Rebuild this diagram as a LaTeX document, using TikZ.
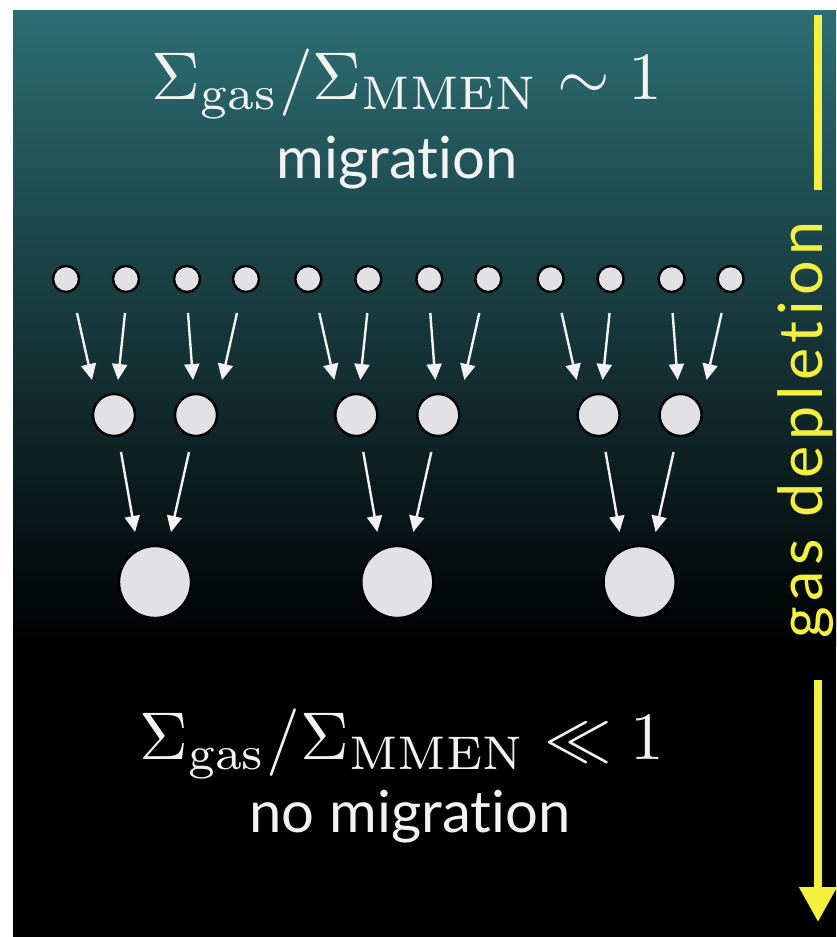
\documentclass[tikz,border=0pt]{standalone}
\usepackage{fontspec}
\newfontfamily\labelfont[Ligatures=NoCommon]{Lato}
\newfontfamily\axisfont[Ligatures=NoCommon,LetterSpace=9]{Lato}
\usetikzlibrary{arrows.meta,calc}

\definecolor{deepteal}{RGB}{44,110,116}
\definecolor{planet}{RGB}{226,226,228}
\definecolor{hint}{RGB}{244,240,64}
\definecolor{chalk}{RGB}{242,242,242}

\tikzset{
  body/.style={circle, fill=planet, draw=black, line width=2.4pt, inner sep=0pt},
  small/.style={body, minimum size=26pt},
  medium/.style={body, minimum size=42pt},
  large/.style={body, minimum size=72pt},
  flow/.style={draw=chalk, line width=2.4pt, -{Triangle[length=16pt,width=15pt]}},
  mathlabel/.style={text=chalk, font=\normalsize, scale=6.75},
  wordlabel/.style={text=chalk, font=\labelfont\fontsize{58}{62}\selectfont},
  depletion/.style={draw=hint, line width=8pt},
}

\begin{document}
\begin{tikzpicture}[x=1pt,y=-1pt]
  \useasboundingbox (0,0) rectangle (836,937);
  \fill[white] (0,0) rectangle (836,937);
  % background: teal fading into black
  \fill[top color=deepteal, bottom color=black] (13,10) rectangle (836,645);
  \fill[black] (13,644) rectangle (836,937);

  % headings
  \node[mathlabel] (top) at (407,84) {$\Sigma_{\rm gas}/\Sigma_{\rm MMEN}\sim 1$};
  \node[wordlabel] (mig) at (397,163) {migration};
  \node[mathlabel] (bot) at (402,744) {$\Sigma_{\rm gas}/\Sigma_{\rm MMEN}\ll 1$};
  \node[wordlabel] (nomig) at (410,817) {no migration};

  % three hierarchical merger trees
  \foreach \g in {0,1,2} {
    \pgfmathsetmacro{\dx}{242.3*\g}
    \foreach \i/\x in {1/66,2/126,3/187,4/246}
      \node[small] (s\g-\i) at (\x+\dx,279) {};
    \node[medium] (m\g-1) at (114+\dx,415) {};
    \node[medium] (m\g-2) at (196+\dx,415) {};
    \node[large] (l\g) at (155+\dx,582) {};
    % small -> medium
    \draw[flow] ($(s\g-1)+(11,34)$) -- ($(m\g-1)+(-22,-35)$);
    \draw[flow] ($(s\g-2)+(-1,34)$) -- ($(m\g-1)+(4,-35)$);
    \draw[flow] ($(s\g-3)+(1,34)$) -- ($(m\g-2)+(-3,-35)$);
    \draw[flow] ($(s\g-4)+(-9,34)$) -- ($(m\g-2)+(26,-35)$);
    % medium -> large
    \draw[flow] ($(m\g-1)+(7,37)$) -- ($(l\g)+(-20,-50)$);
    \draw[flow] ($(m\g-2)+(-7,37)$) -- ($(l\g)+(16,-50)$);
  }

  % gas depletion axis
  \coordinate (ytop) at (818,15);
  \coordinate (ymid) at (818,190);
  \coordinate (ylow) at (818,680);
  \coordinate (yend) at (818,922);
  \draw[depletion] (ytop) -- (ymid);
  \node[text=hint, font=\axisfont\fontsize{61}{64}\selectfont, rotate=90, anchor=base] (gd) at (822,430) {gas depletion};
  \draw[depletion, -{Triangle[length=35pt,width=36pt]}] (ylow) -- (yend);
\end{tikzpicture}
\end{document}
